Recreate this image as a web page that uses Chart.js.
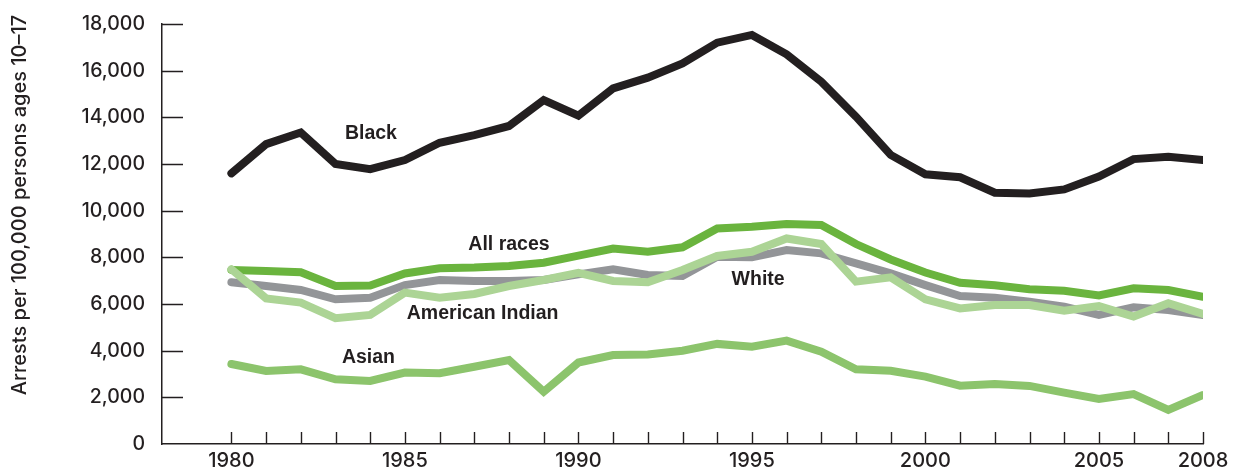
<!DOCTYPE html>
<html>
<head>
<meta charset="utf-8">
<script src="https://cdn.jsdelivr.net/npm/chart.js@4"></script>
<style>
  html, body { margin: 0; padding: 0; background: #ffffff; }
  #wrap { width: 1238px; height: 470px; }
</style>
</head>
<body>
<div id="wrap"><canvas id="c" width="1238" height="470"></canvas></div>
<script>
const years = [1980,1981,1982,1983,1984,1985,1986,1987,1988,1989,1990,1991,1992,1993,1994,1995,1996,1997,1998,1999,2000,2001,2002,2003,2004,2005,2006,2007,2008];
const xLabelYears = [1980,1985,1990,1995,2000,2005,2008];
const yTicks = [0,2000,4000,6000,8000,10000,12000,14000,16000,18000];

const black = [11600,12850,13350,12000,11780,12170,12910,13240,13630,14740,14070,15240,15700,16310,17200,17530,16700,15530,14030,12390,11560,11430,10770,10740,10910,11460,12210,12310,12170];
const allRaces = [7460,7410,7360,6770,6790,7310,7530,7560,7630,7770,8070,8380,8240,8430,9240,9310,9430,9390,8570,7910,7350,6910,6800,6630,6570,6370,6670,6600,6310];
const white = [6930,6770,6600,6200,6270,6810,7030,6990,6990,7030,7270,7490,7240,7200,8030,8000,8310,8170,7740,7310,6810,6340,6270,6100,5890,5530,5860,5740,5530];
const americanIndian = [7490,6240,6060,5390,5530,6490,6270,6430,6770,7030,7340,6990,6930,7460,8060,8240,8810,8570,6960,7140,6200,5810,5960,5960,5710,5910,5460,6030,5570];
const asian = [3430,3130,3200,2770,2700,3060,3030,3310,3600,2240,3490,3810,3840,4000,4290,4170,4430,3960,3200,3140,2890,2500,2570,2490,2200,1930,2140,1460,2100];

const seriesNames = ['Black','All races','White','American Indian','Asian'];
// label anchors in data units (year, value)
const labelYears = [1984.02, 1988.0, 1995.18, 1987.24, 1983.95];
const labelValues = [13310, 8530, 7050, 5570, 3690];

const yTitle = 'Arrests per 100,000 persons ages 10–17';
const ink = '#231f20';
const tickFont = 'Inter, "DejaVu Sans", sans-serif';

function pts(arr) { return years.map((yr, i) => ({ x: yr, y: arr[i] })); }

function ds(label, arr, color) {
  return {
    label: label, data: pts(arr), borderColor: color, backgroundColor: color,
    borderWidth: 8, pointRadius: 0, tension: 0, fill: false,
    borderCapStyle: 'round', borderJoinStyle: 'miter'
  };
}

const inwardTicks = {
  id: 'inwardTicks',
  beforeDatasetsDraw(chart) {
    const ctx = chart.ctx, xs = chart.scales.x, ys = chart.scales.y, a = chart.chartArea;
    ctx.save();
    ctx.strokeStyle = ink; ctx.lineWidth = 1.4;
    ctx.beginPath();
    years.forEach(v => {
      const px = Math.round(xs.getPixelForValue(v)) + 0.5;
      ctx.moveTo(px, a.bottom); ctx.lineTo(px, a.bottom - 12);
    });
    yTicks.forEach(v => {
      if (v === 0) return;
      const py = Math.round(ys.getPixelForValue(v)) + 0.5;
      ctx.moveTo(a.left, py); ctx.lineTo(a.left + 21, py);
    });
    ctx.stroke();
    ctx.restore();
  },
  afterDraw(chart) {
    const ctx = chart.ctx, xs = chart.scales.x, ys = chart.scales.y;
    ctx.save();
    ctx.fillStyle = ink;
    ctx.font = 'bold 19.5px "Liberation Sans", Arial, sans-serif';
    ctx.textAlign = 'center'; ctx.textBaseline = 'middle';
    seriesNames.forEach((n, i) => {
      ctx.fillText(n, xs.getPixelForValue(labelYears[i]), ys.getPixelForValue(labelValues[i]));
    });
    // y-axis title
    ctx.font = '500 20px ' + tickFont;
    ctx.translate(20, 205);
    ctx.rotate(-Math.PI / 2);
    ctx.fillText(yTitle, 0, 0);
    ctx.restore();
  }
};

new Chart(document.getElementById('c'), {
  type: 'line',
  data: {
    datasets: [
      ds('Black', black, ink),
      ds('American Indian', americanIndian, '#acd495'),
      ds('All races', allRaces, '#6ab43e'),
      ds('Asian', asian, '#8cc46c'),
      ds('White', white, '#939598')
    ]
  },
  options: {
    responsive: false,
    animation: false,
    layout: { padding: { top: 24, right: 35, left: 0, bottom: 0 } },
    plugins: { legend: { display: false }, tooltip: { enabled: false } },
    scales: {
      x: {
        type: 'linear', min: 1978, max: 2008,
        afterBuildTicks: (s) => { s.ticks = years.map(v => ({ value: v })); },
        afterFit: (s) => { s.height = 26; s.paddingLeft = 0; s.paddingRight = 0; },
        grid: { display: true, drawOnChartArea: false, drawTicks: false },
        border: { display: true, color: ink, width: 1.5 },
        ticks: {
          autoSkip: false, maxRotation: 0, minRotation: 0, padding: 5,
          color: ink, font: { family: tickFont, size: 20, weight: '500' },
          callback: (v) => xLabelYears.includes(v) ? String(v) : ''
        }
      },
      y: {
        min: 0, max: 18000,
        afterBuildTicks: (s) => { s.ticks = yTicks.map(v => ({ value: v })); },
        afterFit: (s) => { s.width = 162; s.paddingTop = 0; s.paddingBottom = 0; },
        grid: { display: true, drawOnChartArea: false, drawTicks: false },
        border: { display: true, color: ink, width: 1.5 },
        ticks: {
          padding: 17, color: ink, font: { family: tickFont, size: 19.5, weight: '500' },
          callback: (v) => v.toLocaleString('en-US')
        }
      }
    }
  },
  plugins: [inwardTicks]
});
</script>
</body>
</html>
